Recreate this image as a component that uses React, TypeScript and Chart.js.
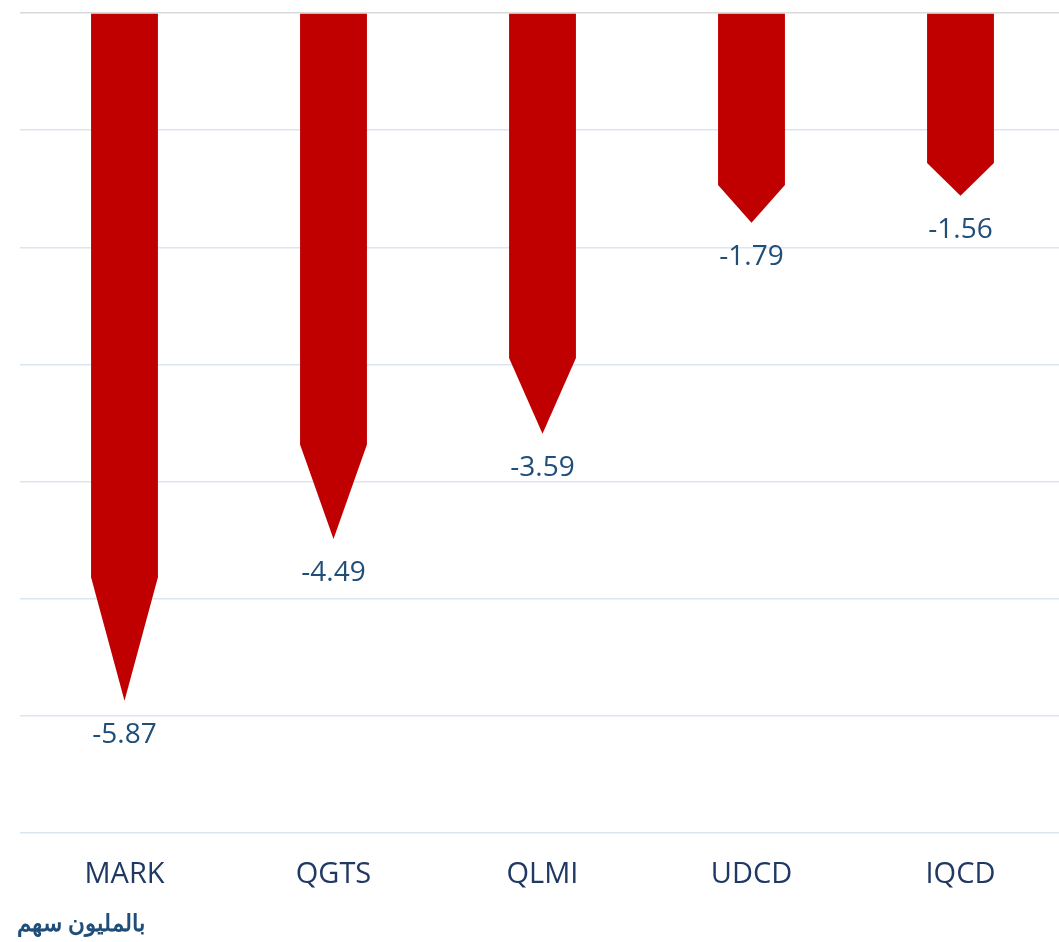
import React, { useEffect, useRef } from "react";
import { Chart, registerables } from "chart.js";

Chart.register(...registerables);

const categories = ["MARK", "QGTS", "QLMI", "UDCD", "IQCD"];
const values = [-5.87, -4.49, -3.59, -1.79, -1.56];
const yTicks = [0, -1, -2, -3, -4, -5, -6, -7];
const unitNote = "بالمليون سهم";

const BAR_COLOR = "#C00000";
const LABEL_COLOR = "#1F4E79";
const AXIS_COLOR = "#1F3864";

const arrowBars = {
  id: "arrowBars",
  afterDatasetsDraw(chart: any) {
    const ctx = chart.ctx;
    const meta = chart.getDatasetMeta(0);
    ctx.save();
    meta.data.forEach((bar: any, i: number) => {
      const { x, y, base, width } = bar.getProps(["x", "y", "base", "width"], true);
      const len = y - base;
      const bodyEnd = y - len * 0.18;
      const half = width / 2;
      ctx.beginPath();
      ctx.moveTo(x - half, base);
      ctx.lineTo(x + half, base);
      ctx.lineTo(x + half, bodyEnd);
      ctx.lineTo(x, y);
      ctx.lineTo(x - half, bodyEnd);
      ctx.closePath();
      ctx.fillStyle = BAR_COLOR;
      ctx.fill();
      ctx.fillStyle = LABEL_COLOR;
      ctx.font = "28px 'Open Sans'";
      ctx.textAlign = "center";
      ctx.textBaseline = "middle";
      ctx.fillText(values[i].toFixed(2), x, y + 34);
    });
    ctx.direction = "rtl";
    ctx.textAlign = "right";
    ctx.textBaseline = "middle";
    ctx.font = "bold 23px 'Liberation Sans'";
    ctx.fillStyle = LABEL_COLOR;
    ctx.fillText(unitNote, 145, 925);
    ctx.restore();
  },
};

export default function App() {
  const ref = useRef<HTMLCanvasElement | null>(null);
  useEffect(() => {
    if (!ref.current) return;
    const chart = new Chart(ref.current, {
      type: "bar",
      data: {
        labels: categories,
        datasets: [
          {
            data: values,
            backgroundColor: "rgba(0,0,0,0)",
            borderWidth: 0,
            barPercentage: 0.32,
            categoryPercentage: 1,
          },
        ],
      },
      options: {
        responsive: false,
        animation: false,
        layout: { padding: { left: 20, top: 13, right: 1, bottom: 34 } },
        plugins: { legend: { display: false }, tooltip: { enabled: false } },
        scales: {
          x: {
            position: "bottom",
            grid: { display: false },
            border: { display: false },
            ticks: {
              color: AXIS_COLOR,
              font: { family: "'Open Sans'", size: 29 },
              padding: 16,
            },
          },
          y: {
            min: -7,
            max: 0,
            afterBuildTicks: (axis: any) => {
              axis.ticks = yTicks.map((v) => ({ value: v }));
            },
            ticks: { display: false },
            border: { display: false },
            grid: {
              drawTicks: false,
              lineWidth: 1.5,
              color: (c: any) => (c.tick && c.tick.value === 0 ? "#D9D9D9" : "#DCE6F2"),
            },
          },
        },
      },
      plugins: [arrowBars],
    });
    return () => chart.destroy();
  }, []);
  return (
    <div style={{ position: "absolute", left: 0, top: 0, width: 1059, height: 942, overflow: "hidden", background: "#fff" }}>
      <canvas ref={ref} width={1066} height={942} style={{ width: 1066, height: 942, display: "block" }} />
    </div>
  );
}
